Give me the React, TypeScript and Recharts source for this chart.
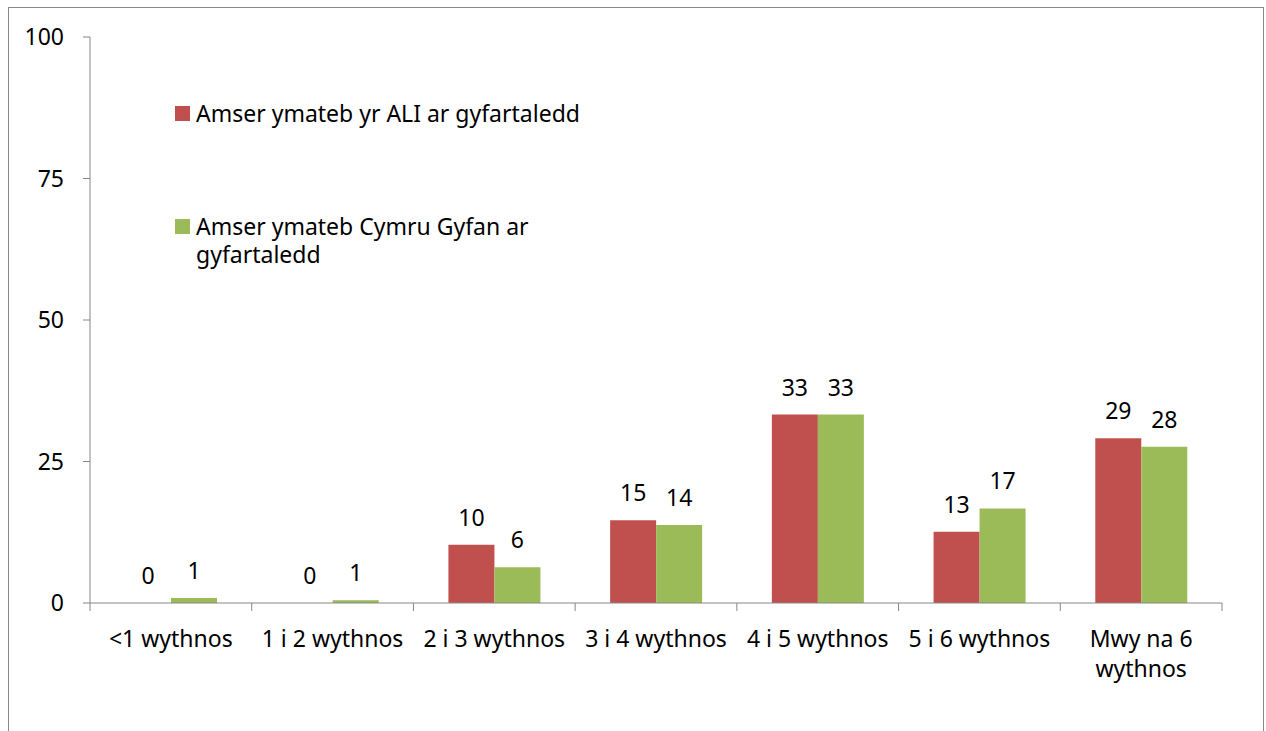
import { BarChart, Bar, XAxis, YAxis, Legend, LabelList, Cell } from 'recharts'

const CATEGORIES = ['<1 wythnos', '1 i 2 wythnos', '2 i 3 wythnos', '3 i 4 wythnos', '4 i 5 wythnos', '5 i 6 wythnos', 'Mwy na 6 wythnos']
const ALI = [0, 0, 10.3, 14.6, 33.3, 12.6, 29.1]
const CYMRU = [0.9, 0.5, 6.3, 13.8, 33.3, 16.7, 27.6]
const Y_TICKS = [0, 25, 50, 75, 100]

const SERIES = [
  { key: 'ali', name: 'Amser ymateb yr ALI ar gyfartaledd', color: '#C0504D', values: ALI },
  { key: 'cymru', name: 'Amser ymateb Cymru Gyfan ar gyfartaledd', color: '#9BBB59', values: CYMRU },
]

const FONT = '"Noto Sans", sans-serif'
const FS = 23
const AXIS = '#868686'

const data = CATEGORIES.map((name, i) => ({ name, ali: ALI[i], cymru: CYMRU[i] }))

let ctx: CanvasRenderingContext2D | null = null
function wrap(text: string, maxW: number) {
  if (!ctx) ctx = document.createElement('canvas').getContext('2d')
  if (ctx) ctx.font = `${FS}px "Noto Sans"`
  const lines: string[] = []
  let cur = ''
  for (const w of text.split(' ')) {
    const next = cur ? cur + ' ' + w : w
    if (cur && ctx && ctx.measureText(next).width > maxW) {
      lines.push(cur)
      cur = w
    } else cur = next
  }
  lines.push(cur)
  return lines
}

// label centred in its band, tick marks on the band edges
function CategoryTick(props: any) {
  const { x, y, payload, index, visibleTicksCount, width } = props
  const half = (width ?? 1132) / visibleTicksCount / 2
  const lines = wrap(String(payload.value), 158)
  return (
    <g>
      <line x1={x - half} x2={x - half} y1={y} y2={y + 8} stroke={AXIS} />
      {index === visibleTicksCount - 1 && (
        <line x1={x + half} x2={x + half} y1={y} y2={y + 8} stroke={AXIS} />
      )}
      <text x={x} y={y + 44} textAnchor="middle" fill="#000" fontSize={FS} fontFamily={FONT}>
        {lines.map((l, i) => (
          <tspan key={i} x={x} dy={i === 0 ? 0 : 30}>{l}</tspan>
        ))}
      </text>
    </g>
  )
}

function LegendBox() {
  return (
    <div style={{ fontFamily: FONT, fontSize: FS, lineHeight: '28px', color: '#000' }}>
      {SERIES.map((s, i) => (
        <div key={s.key} style={{ display: 'flex', alignItems: 'flex-start', marginBottom: i === 0 ? 85 : 0 }}>
          <div style={{ width: 15, height: 15, background: s.color, marginTop: 7, marginRight: 6, flexShrink: 0 }} />
          <div style={{ maxWidth: 440 }}>{s.name}</div>
        </div>
      ))}
    </div>
  )
}

export default function App() {
  return (
    <div style={{ position: 'absolute', left: 8, top: 7, width: 1256, height: 724, boxSizing: 'border-box',
      borderTop: '1px solid #888', borderLeft: '1px solid #888', borderRight: '1px solid #888',
      background: '#fff', fontFamily: FONT }}>
      <BarChart width={1254} height={723} data={data} barGap={0} barCategoryGap={35}
        margin={{ top: 29, right: 41, left: 0, bottom: 48 }}>
        <XAxis dataKey="name" height={80} interval={0} tickSize={0} tickMargin={0} tickLine={false}
          axisLine={{ stroke: AXIS }} tick={<CategoryTick />} />
        <YAxis domain={[0, 100]} ticks={Y_TICKS} interval={0} width={81} tickSize={7} tickMargin={19}
          axisLine={{ stroke: AXIS }} tickLine={{ stroke: AXIS }}
          tick={{ fill: '#000', fontSize: FS, fontFamily: FONT }} />
        <Legend layout="vertical" align="center" verticalAlign="middle" content={<LegendBox />}
          wrapperStyle={{ left: 166, top: 91, width: 500, height: 'auto' }} />
        {SERIES.map((s) => (
          <Bar key={s.key} dataKey={s.key} name={s.name} fill={s.color} minPointSize={0.1} isAnimationActive={false}>
            {s.values.map((v, i) => (
              <Cell key={i} fill={v > 0 ? s.color : 'transparent'} />
            ))}
            <LabelList dataKey={s.key} position="top" offset={19} fill="#000" fontSize={FS} fontFamily={FONT}
              formatter={(v: any) => String(Math.round(Number(v)))} />
          </Bar>
        ))}
      </BarChart>
    </div>
  )
}
